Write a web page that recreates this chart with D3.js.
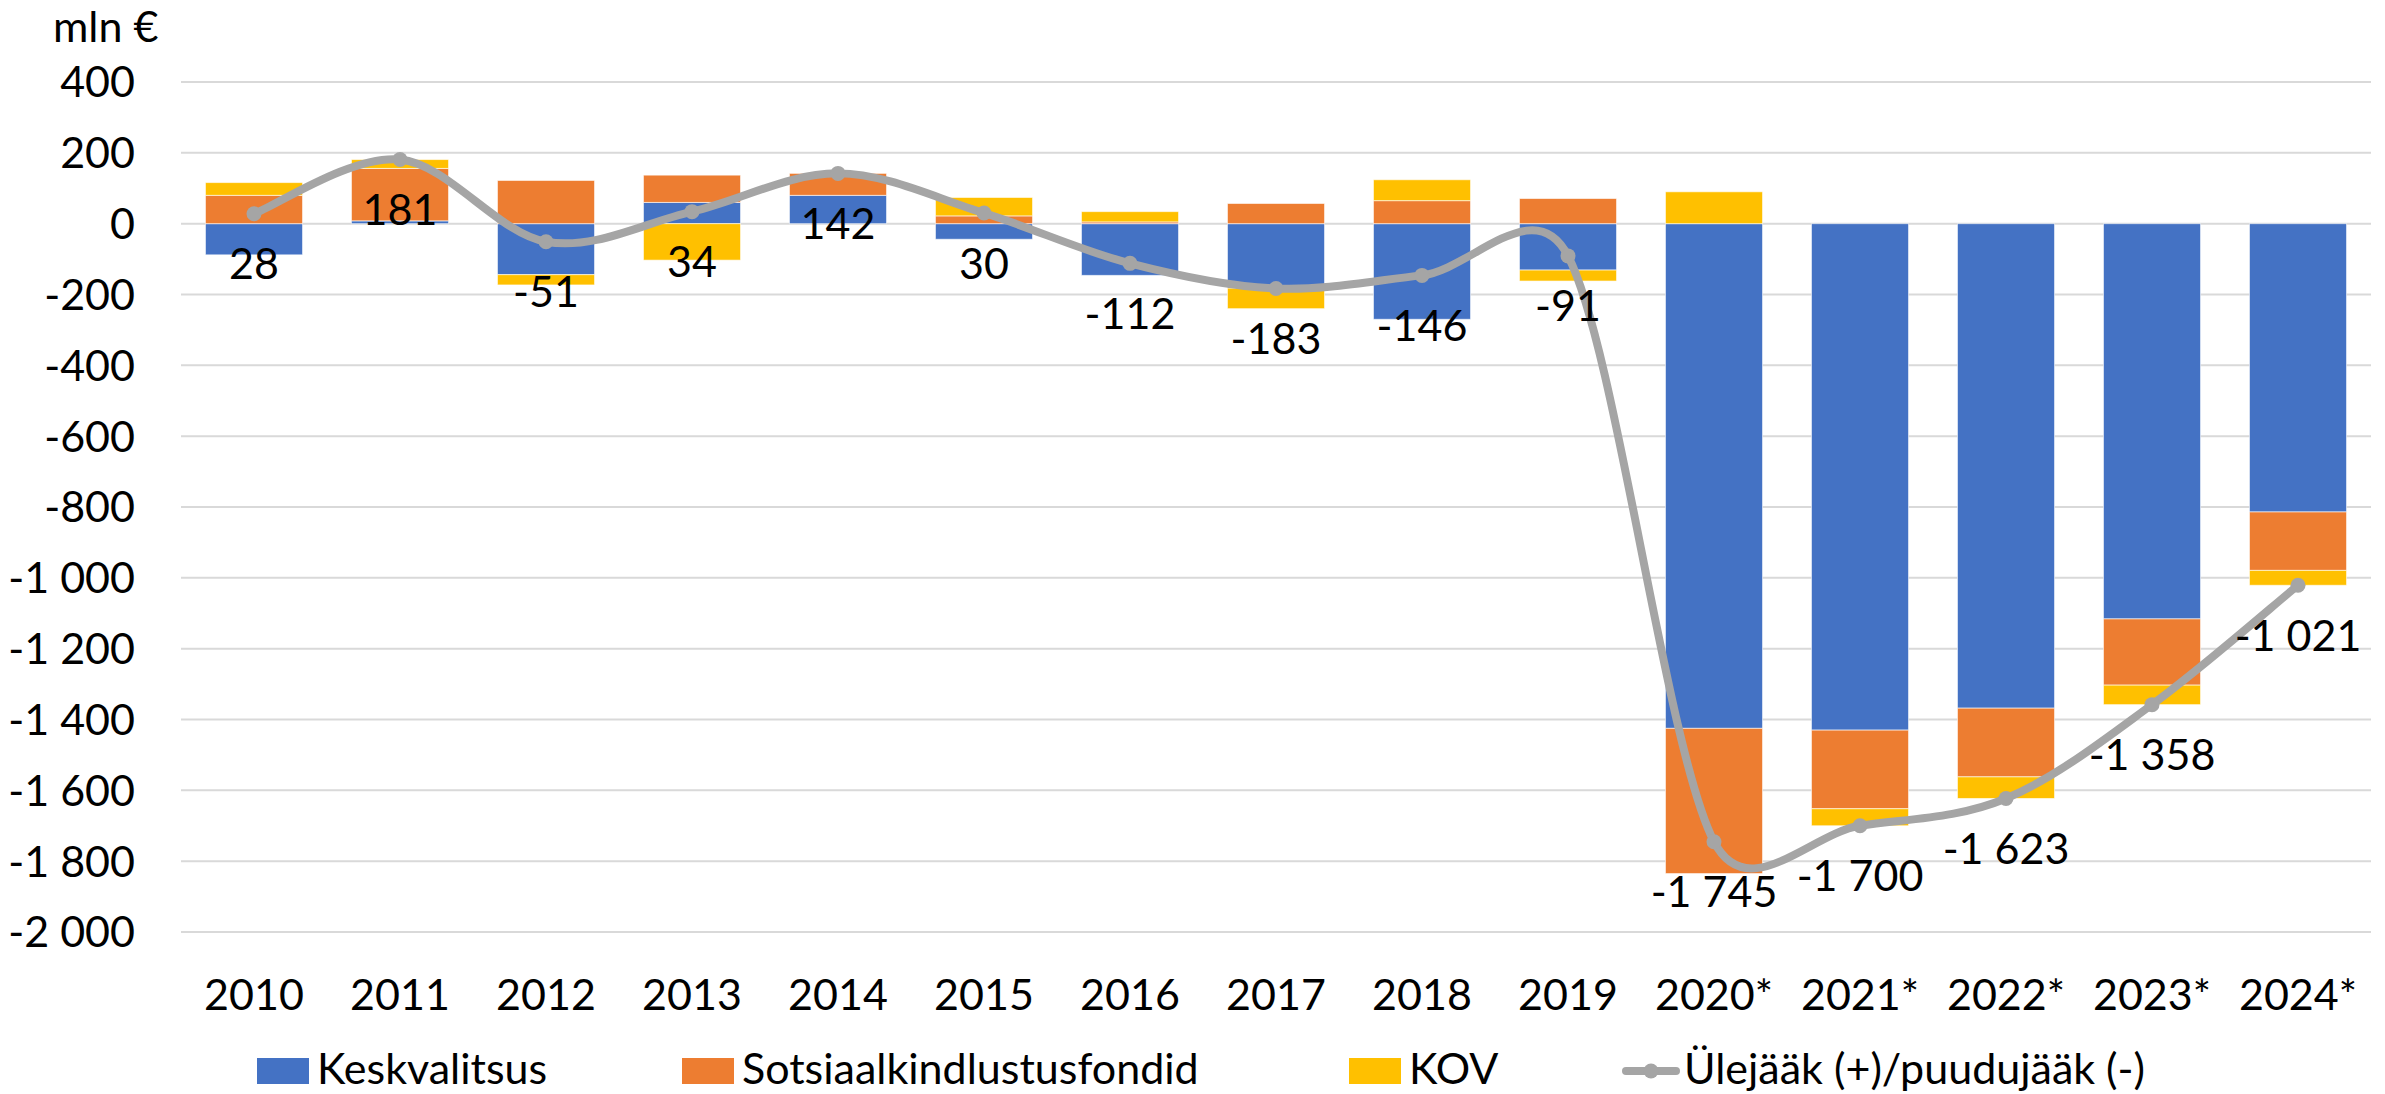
<!DOCTYPE html>
<html>
<head>
<meta charset="utf-8">
<script src="https://cdn.jsdelivr.net/npm/d3@7"></script>
<style>
  html, body { margin: 0; padding: 0; background: #fff; }
  svg text { font-family: Lato, "Open Sans", sans-serif; fill: #000; }
</style>
</head>
<body>
<svg id="chart" width="2385" height="1094"></svg>
<script>
// values in mln €
const years = ["2010", "2011", "2012", "2013", "2014", "2015", "2016", "2017", "2018", "2019",
  "2020*", "2021*", "2022*", "2023*", "2024*"];
const keskvalitsus = [-88, 8, -144, 60, 80, -44, -146, -182, -270, -131, -1425, -1430, -1368, -1116, -814];
const sotsiaal = [80, 148, 122, 77, 62, 22, 5, 57, 65, 71, -410, -222, -194, -187, -165];
const kov = [36, 25, -29, -103, 0, 52, 29, -58, 59, -31, 90, -48, -61, -55, -42];
const balance = [28, 181, -51, 34, 142, 30, -112, -183, -146, -91, -1745, -1700, -1623, -1358, -1021];
const yTicks = [400, 200, 0, -200, -400, -600, -800, -1000, -1200, -1400, -1600, -1800, -2000];

const seriesNames = ["Keskvalitsus", "Sotsiaalkindlustusfondid", "KOV"];
const colors = ["#4472c4", "#ed7d31", "#ffc000"];
const lineName = "Ülejääk (+)/puudujääk (-)";
const lineColor = "#a5a5a5";

const svg = d3.select("#chart");
const fontSize = 43;

const x = d3.scaleBand().domain(years).range([181, 2371]).paddingInner(0.335).paddingOuter(0.1675);
const y = d3.scaleLinear().domain([-2000, 400]).range([932, 82]);

// thousands with a space, hyphen minus
const fmt = v => d3.format(",")(v).replace(/,/g, " ").replace("−", "-");

// gridlines
svg.append("g")
  .selectAll("line")
  .data(yTicks)
  .enter()
  .append("line")
  .attr("x1", 181)
  .attr("x2", 2371)
  .attr("y1", d => y(d))
  .attr("y2", d => y(d))
  .style("stroke", "#d9d9d9")
  .style("stroke-width", 2);

// y tick labels
svg.append("g")
  .selectAll("text")
  .data(yTicks)
  .enter()
  .append("text")
  .attr("x", 135)
  .attr("y", d => y(d))
  .attr("dy", "0.36em")
  .attr("text-anchor", "end")
  .style("font-size", fontSize + "px")
  .text(d => fmt(d));

svg.append("text")
  .attr("x", 53)
  .attr("y", 42)
  .style("font-size", fontSize + "px")
  .text("mln €");

// stacked bars
const rows = years.map((yr, i) => ({
  year: yr,
  Keskvalitsus: keskvalitsus[i],
  Sotsiaalkindlustusfondid: sotsiaal[i],
  KOV: kov[i],
}));
const stacked = d3.stack().keys(seriesNames).offset(d3.stackOffsetDiverging)(rows);

svg.append("g")
  .selectAll("g")
  .data(stacked)
  .enter()
  .append("g")
  .attr("fill", (d, i) => colors[i])
  .selectAll("rect")
  .data(d => d)
  .enter()
  .append("rect")
  .attr("x", d => x(d.data.year))
  .attr("width", x.bandwidth())
  .attr("y", d => y(Math.max(d[0], d[1])))
  .attr("height", d => Math.abs(y(d[0]) - y(d[1])))
  .style("stroke", "#fff")
  .style("stroke-opacity", 0.6)
  .style("stroke-width", 1);

// x labels
svg.append("g")
  .selectAll("text")
  .data(years)
  .enter()
  .append("text")
  .attr("x", d => x(d) + x.bandwidth() / 2)
  .attr("y", 1010)
  .attr("text-anchor", "middle")
  .style("font-size", fontSize + "px")
  .text(d => d);

// balance line, smoothed like excel: bezier with tangent (p2 - p0)/6,
// control arm capped at half the segment length
const cx = i => x(years[i]) + x.bandwidth() / 2;
const pts = balance.map((v, i) => [cx(i), y(v)]);

function smoothPath(p) {
  const dist = (a, b) => Math.hypot(b[0] - a[0], b[1] - a[1]);
  const path = d3.path();
  path.moveTo(p[0][0], p[0][1]);
  for (let i = 0; i < p.length - 1; i++) {
    const p0 = p[Math.max(i - 1, 0)], p1 = p[i], p2 = p[i + 1], p3 = p[Math.min(i + 2, p.length - 1)];
    const seg = dist(p1, p2);
    const dA = dist(p0, p2), dB = dist(p1, p3);
    const fA = dA / 6 < seg / 2 ? 1 / 6 : seg / dA / 2;
    const fB = dB / 6 < seg / 2 ? 1 / 6 : seg / dB / 2;
    path.bezierCurveTo(
      p1[0] + (p2[0] - p0[0]) * fA, p1[1] + (p2[1] - p0[1]) * fA,
      p2[0] - (p3[0] - p1[0]) * fB, p2[1] - (p3[1] - p1[1]) * fB,
      p2[0], p2[1]);
  }
  return path.toString();
}

svg.append("path")
  .attr("d", smoothPath(pts))
  .style("fill", "none")
  .style("stroke", lineColor)
  .style("stroke-width", 8)
  .style("stroke-linecap", "round");

svg.append("g")
  .selectAll("circle")
  .data(balance)
  .enter()
  .append("circle")
  .attr("cx", (d, i) => cx(i))
  .attr("cy", d => y(d))
  .attr("r", 7.5)
  .attr("fill", lineColor);

// data labels below points
svg.append("g")
  .selectAll("text")
  .data(balance)
  .enter()
  .append("text")
  .attr("x", (d, i) => cx(i))
  .attr("y", d => y(d) + 50)
  .attr("dy", "0.36em")
  .attr("text-anchor", "middle")
  .style("font-size", fontSize + "px")
  .text(d => fmt(d));

// legend
const legendX = [257, 682, 1349];
const legend = svg.append("g");
seriesNames.forEach((name, i) => {
  legend.append("rect")
    .attr("x", legendX[i])
    .attr("y", 1058)
    .attr("width", 52)
    .attr("height", 26)
    .attr("fill", colors[i]);
  legend.append("text")
    .attr("x", legendX[i] + 60)
    .attr("y", 1084)
    .style("font-size", fontSize + "px")
    .text(name);
});
legend.append("line")
  .attr("x1", 1626)
  .attr("x2", 1676)
  .attr("y1", 1071)
  .attr("y2", 1071)
  .style("stroke", lineColor)
  .style("stroke-width", 8)
  .style("stroke-linecap", "round");
legend.append("circle")
  .attr("cx", 1651)
  .attr("cy", 1071)
  .attr("r", 7.5)
  .attr("fill", lineColor);
legend.append("text")
  .attr("x", 1684)
  .attr("y", 1084)
  .style("font-size", fontSize + "px")
  .text(lineName);
</script>
</body>
</html>
